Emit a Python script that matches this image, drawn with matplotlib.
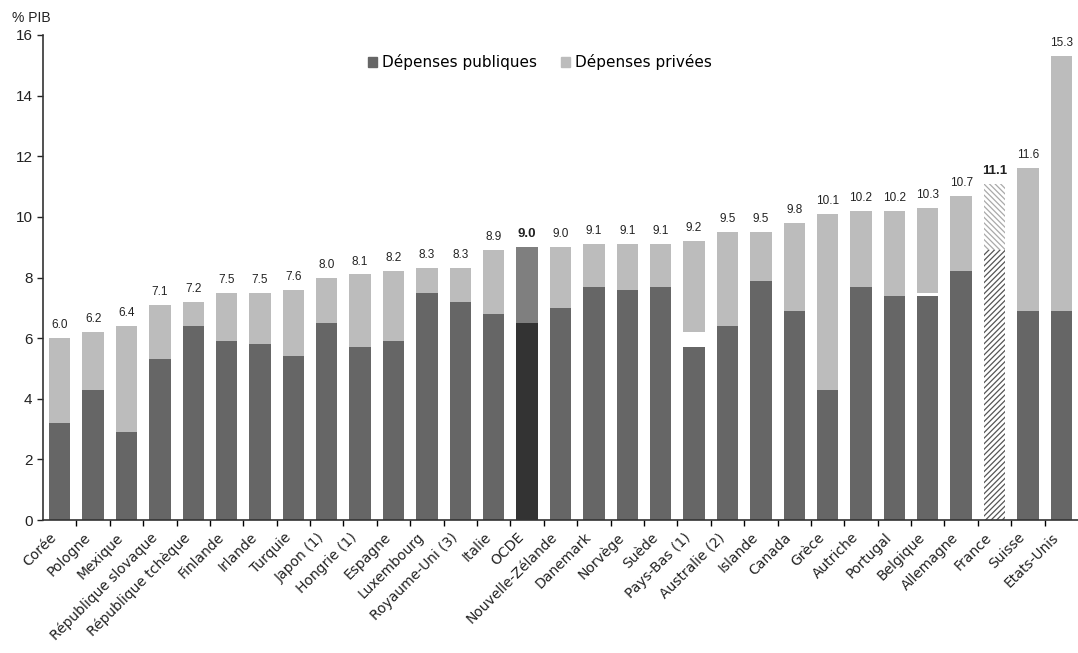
import numpy as np
import matplotlib
matplotlib.use("Agg")
import matplotlib.pyplot as plt
import matplotlib.transforms as mtransforms
from matplotlib.patches import Patch

plt.rcParams["font.family"] = ["Liberation Sans", "DejaVu Sans"]
plt.rcParams["hatch.linewidth"] = 0.9

DARK = "#666666"
LIGHT = "#bcbcbc"
OECD_DARK = "#333333"
OECD_LIGHT = "#7f7f7f"
TEXT = "#222222"
WIDE = ["DejaVu Sans"]

countries = [
    "Corée", "Pologne", "Mexique", "République slovaque", "République tchèque",
    "Finlande", "Irlande", "Turquie", "Japon (1)", "Hongrie (1)", "Espagne",
    "Luxembourg", "Royaume-Uni (3)", "Italie", "OCDE", "Nouvelle-Zélande",
    "Danemark", "Norvège", "Suède", "Pays-Bas (1)", "Australie (2)", "Islande",
    "Canada", "Grèce", "Autriche", "Portugal", "Belgique", "Allemagne",
    "France", "Suisse", "Etats-Unis",
]
total = [
    6.0, 6.2, 6.4, 7.1, 7.2, 7.5, 7.5, 7.6, 8.0, 8.1, 8.2, 8.3, 8.3, 8.9, 9.0,
    9.0, 9.1, 9.1, 9.1, 9.2, 9.5, 9.5, 9.8, 10.1, 10.2, 10.2, 10.3, 10.7,
    11.1, 11.6, 15.3,
]
public = [
    3.2, 4.3, 2.9, 5.3, 6.4, 5.9, 5.8, 5.4, 6.5, 5.7, 5.9, 7.5, 7.2, 6.8, 6.5,
    7.0, 7.7, 7.6, 7.7, 5.7, 6.4, 7.9, 6.9, 4.3, 7.7, 7.4, 7.4, 8.2,
    8.9, 6.9, 6.9,
]
# part not split between public and private
unallocated = [0.0] * 19 + [0.5] + [0.0] * 6 + [0.1] + [0.0] * 4

n = len(countries)
x = np.arange(n)
public = np.array(public)
unallocated = np.array(unallocated)
private = np.array(total) - public - unallocated

i_oecd = countries.index("OCDE")
i_fr = countries.index("France")

fig = plt.figure(figsize=(10.78, 6.53), dpi=100, facecolor="white")
ax = fig.add_axes([43 / 1078, 133 / 653, 1035 / 1078, 485 / 653])

width = 0.64
pub_colors = [DARK] * n
priv_colors = [LIGHT] * n
pub_colors[i_oecd] = OECD_DARK
priv_colors[i_oecd] = OECD_LIGHT

bars_pub = ax.bar(x, public, width, color=pub_colors, linewidth=0, zorder=2)
ax.bar(x, unallocated, width, bottom=public, color="white", linewidth=0, zorder=2)
bars_priv = ax.bar(x, private, width, bottom=public + unallocated,
                   color=priv_colors, linewidth=0, zorder=2)

# France drawn hatched
for b, col, hatch in ((bars_pub[i_fr], "#555555", "//////"),
                      (bars_priv[i_fr], "#aaaaaa", "\\\\\\\\\\\\")):
    b.set_facecolor("white")
    b.set_edgecolor(col)
    b.set_hatch(hatch)
    b.set_linewidth(0)

for i, t in enumerate(total):
    bold = i in (i_oecd, i_fr)
    ax.annotate(f"{t:.1f}", (x[i], t), xytext=(0, 5), textcoords="offset points",
                ha="center", va="bottom", color=TEXT,
                fontsize=9.5 if bold else 8.5,
                fontweight="bold" if bold else "normal")

ax.set_xlim(-0.5, n - 0.5)
ax.set_ylim(0, 16)
ax.set_yticks(np.arange(0, 17, 2))
ax.tick_params(axis="y", direction="out", length=4, width=1, labelsize=11,
               colors=TEXT)
ax.set_xticks(x)
ax.set_xticklabels(countries, rotation=45, ha="right", rotation_mode="anchor",
                   fontsize=10, color=TEXT, family=WIDE)
ax.tick_params(axis="x", length=0, pad=6)
ax.set_xticks(np.arange(n - 1) + 0.5, minor=True)
ax.tick_params(axis="x", which="minor", direction="out", length=4, width=1)

# nudge the slanted country names a little to the left
shift = mtransforms.ScaledTranslation(-10 / 100, -2 / 100, fig.dpi_scale_trans)
for lab in ax.get_xticklabels():
    lab.set_transform(lab.get_transform() + shift)

ax.spines[["top", "right"]].set_visible(False)
for s in ("left", "bottom"):
    ax.spines[s].set_linewidth(1.2)
    ax.spines[s].set_color("#333333")

handles = [Patch(color=DARK, label="Dépenses publiques"),
           Patch(color=LIGHT, label="Dépenses privées")]
ax.legend(handles=handles, loc="center", bbox_to_anchor=(0.48, 0.944), ncol=2,
          frameon=False, prop={"family": WIDE, "size": 11}, handlelength=0.6,
          handleheight=0.6, handletextpad=0.3, columnspacing=1.6)

fig.text(12 / 1078, 1 - 18 / 653, "% PIB", fontsize=10, color=TEXT,
         ha="left", va="center")

fig.savefig("out.png", dpi=100, facecolor="white")
